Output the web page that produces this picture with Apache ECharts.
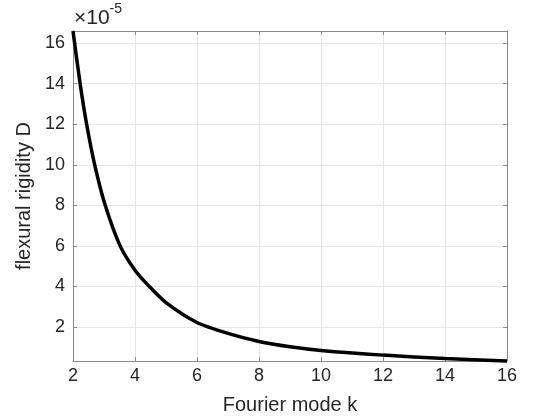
<!DOCTYPE html>
<html>
<head>
<meta charset="utf-8">
<script src="https://cdn.jsdelivr.net/npm/echarts@6/dist/echarts.min.js"></script>
<style>html,body{margin:0;padding:0;background:#fff;}#c{width:560px;height:420px;}</style>
</head>
<body>
<div id="c"></div>
<script>
const kValues = [2, 2.23, 2.44, 2.70, 3.04, 3.52, 4, 4.46, 5, 6, 7, 8, 9, 10, 12, 14, 16];
const dValues = [16.6, 14, 12, 10, 8, 6, 4.8, 4.0, 3.2, 2.22, 1.68, 1.28, 1.02, 0.84, 0.61, 0.44, 0.32];
const xTicks = [2, 4, 6, 8, 10, 12, 14, 16];
const xLabel = 'Fourier mode k';
const yLabel = 'flexural rigidity D';

const FONT = '"Liberation Sans", Arial, sans-serif';
const AX = '#8a8a8a';
const TXT = '#262626';
const GRID = '#e6e6e6';

const chart = echarts.init(document.getElementById('c'), null, {renderer: 'canvas'});
const yMin = Math.min(...dValues), yMax = Math.max(...dValues);
const common = {
  axisLine: {show: true, lineStyle: {color: AX, width: 1}},
  axisTick: {show: true, inside: true, length: 4, lineStyle: {color: AX}},
};
chart.setOption({
  animation: false,
  grid: {left: 73, right: 53, top: 31, bottom: 59},
  xAxis: [{
    type: 'value', min: xTicks[0], max: xTicks[xTicks.length - 1], interval: 2,
    position: 'bottom',
    name: xLabel, nameLocation: 'middle', nameGap: 34,
    nameTextStyle: {fontFamily: FONT, fontSize: 20, color: TXT},
    ...common,
    axisLabel: {fontFamily: FONT, fontSize: 18, color: TXT, margin: 6},
    splitLine: {show: true, lineStyle: {color: GRID, width: 1}}
  }, {
    type: 'value', min: xTicks[0], max: xTicks[xTicks.length - 1], interval: 2,
    position: 'top', ...common,
    axisLabel: {show: false}, splitLine: {show: false}
  }],
  yAxis: [{
    type: 'value', min: yMin, max: yMax, splitNumber: 8,
    position: 'left',
    name: yLabel, nameLocation: 'middle', nameGap: 35, nameRotate: 90,
    nameTextStyle: {fontFamily: FONT, fontSize: 20, color: TXT},
    ...common,
    axisLabel: {fontFamily: FONT, fontSize: 18, color: TXT, margin: 8, showMinLabel: false, showMaxLabel: false},
    splitLine: {show: true, lineStyle: {color: GRID, width: 1}}
  }, {
    type: 'value', min: yMin, max: yMax, splitNumber: 8,
    position: 'right', ...common,
    axisLabel: {show: false}, splitLine: {show: false}
  }],
  graphic: [{
    type: 'text', left: 74, top: 2,
    style: {
      text: '{a|×10}{b|-5}',
      rich: {
        a: {fontFamily: FONT, fontSize: 21, fill: TXT, padding: [6, 0, 0, 0]},
        b: {fontFamily: FONT, fontSize: 14, fill: TXT, verticalAlign: 'top'}
      }
    }
  }],
  series: [{
    type: 'line',
    data: kValues.map((k, i) => [k, dValues[i]]),
    smooth: 0.25,
    showSymbol: false,
    lineStyle: {color: '#000', width: 3.5},
    clip: false
  }]
});
</script>
</body>
</html>
